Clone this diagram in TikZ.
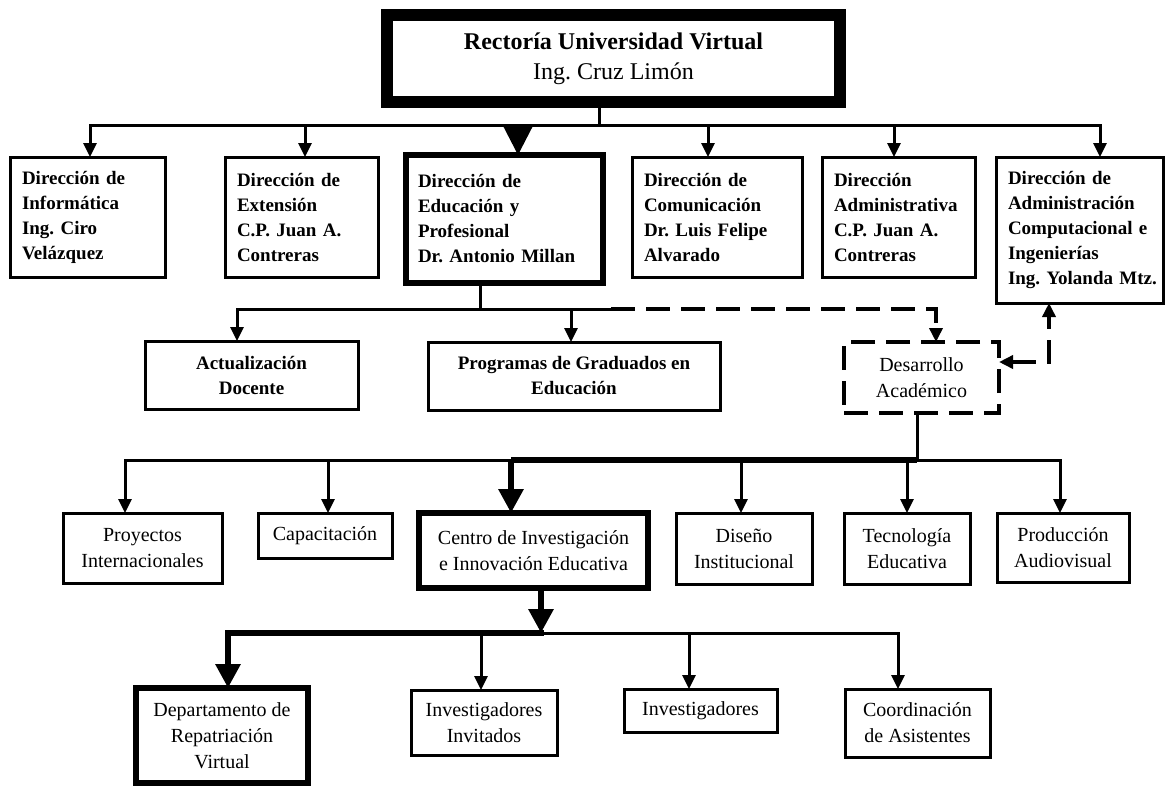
\documentclass[tikz,border=0pt]{standalone}
\usepackage{fontspec}
\setmainfont{Liberation Serif}
\usetikzlibrary{arrows.meta}
\frenchspacing
\begin{document}
\begin{tikzpicture}[x=1pt,y=-1pt,
  every node/.style={inner sep=0pt, outer sep=0pt},
  bx/.style={draw, line width=3pt, align=center, font=\fontsize{20}{26}\selectfont},
  lbx/.style={draw, line width=3pt, align=left, inner xsep=12pt, font=\fontsize{19}{25}\selectfont\bfseries},
  boldtxt/.style={font=\fontsize{19}{25}\selectfont\bfseries},
  heavybox/.style={line width=5.5pt},
  ln/.style={line width=3pt},
  tk/.style={line width=6pt},
  arr/.style={ln, -{Triangle[width=13pt,length=14pt]}},
  tarr/.style={tk, -{Triangle[width=24pt,length=24pt]}},
  dsh/.style={line width=4.5pt, dash pattern=on 24pt off 11pt},
]
\fill[white] (0,0) rectangle (1167,785);
\useasboundingbox (0,0) rectangle (1167,785);

% top
\node[draw, line width=12pt, minimum width=453pt, minimum height=87pt, align=center,
      font=\fontsize{24}{30}\selectfont] (top) at (613.5,58.5)
  {{\bfseries Rectoría Universidad Virtual}\\Ing. Cruz Limón};

% row 2
\node[lbx, minimum width=155pt, minimum height=120pt, text width=131pt] (b1) at (87.5,217)
  {Dirección de\\Informática\\Ing. Ciro\\Velázquez};
\node[lbx, minimum width=153pt, minimum height=120pt, text width=129pt] (b2) at (301.5,217)
  {Dirección de\\Extensión\\C.P. Juan A.\\Contreras};
\node[lbx, heavybox, minimum width=197pt, minimum height=128pt, text width=173pt] (b3) at (504.5,219)
  {Dirección de\\Educación y\\Profesional\\Dr. Antonio Millan};
\node[lbx, minimum width=170pt, minimum height=120pt, text width=146pt] (b4) at (717,217)
  {Dirección de\\Comunicación\\Dr. Luis Felipe\\Alvarado};
\node[lbx, minimum width=153pt, minimum height=120pt, text width=129pt] (b5) at (898.5,217)
  {Dirección\\Administrativa\\C.P. Juan A.\\Contreras};
\node[lbx, minimum width=167pt, minimum height=146pt, text width=143pt] (b6) at (1079.5,230)
  {Dirección de\\Administración\\Computacional e\\Ingenierías\\\makebox[0pt][l]{Ing. Yolanda Mtz.}};

% row 3
\node[bx, boldtxt, minimum width=213pt, minimum height=68pt] (act) at (251.5,375)
  {Actualización\\Docente};
\node[bx, boldtxt, minimum width=292pt, minimum height=68pt] (prog) at (574,376)
  {Programas de Graduados en\\Educación};
\node[bx, dsh, minimum width=155pt, minimum height=71pt] (des) at (921.5,377.5)
  {Desarrollo\\Académico};

% row 4
\node[bx, minimum width=159pt, minimum height=70pt] (proy) at (142.5,548)
  {Proyectos\\Internacionales};
\node[bx, minimum width=134pt, minimum height=45pt] (cap) at (325,535.5)
  {Capacitación};
\node[bx, heavybox, minimum width=229pt, minimum height=75pt] (cen) at (533.5,550.5)
  {Centro de Investigación\\e Innovación Educativa};
\node[bx, minimum width=136pt, minimum height=71pt] (dis) at (744,548.5)
  {Diseño\\Institucional};
\node[bx, minimum width=126pt, minimum height=71pt] (tec) at (907,548.5)
  {Tecnología\\Educativa};
\node[bx, minimum width=132pt, minimum height=69pt] (pro) at (1063,547.5)
  {Producción\\Audiovisual};

% row 5
\node[bx, heavybox, minimum width=172pt, minimum height=95pt] (dep) at (222,735.5)
  {Departamento de\\Repatriación\\Virtual};
\node[bx, minimum width=146pt, minimum height=65pt] (inv) at (484,722.5)
  {Investigadores\\Invitados};
\node[bx, minimum width=153pt, minimum height=43pt] (ivs) at (700.5,710.5)
  {Investigadores};
\node[bx, minimum width=145pt, minimum height=68pt] (coo) at (917.5,723)
  {Coordinación\\de Asistentes};

% connectors: top -> row 2
\coordinate (t0) at (599,125);
\coordinate (a1) at (90,125);
\coordinate (a2) at (305,125);
\coordinate (a3) at (518,125);
\coordinate (a4) at (708,125);
\coordinate (a5) at (894,125);
\coordinate (a6) at (1100,125);
\draw[ln] (top.south -| t0) -- (t0);
\draw[ln, line cap=rect] (a1) -- (a6);
\draw[arr] (a1) -- (b1.north -| a1);
\draw[arr] (a2) -- (b2.north -| a2);
\draw[ln, -{Triangle[width=28pt,length=28pt]}] (a3) -- (b3.north -| a3);
\draw[arr] (a4) -- (b4.north -| a4);
\draw[arr] (a5) -- (b5.north -| a5);
\draw[arr] (a6) -- (b6.north -| a6);

% row 3
\coordinate (c0) at (480,309);
\coordinate (c1) at (237,309);
\coordinate (c2) at (571,309);
\coordinate (c3) at (611,309);
\coordinate (c4) at (936,309);
\draw[ln] (b3.south -| c0) -- (c0);
\draw[ln, line cap=rect] (c1) -- (c3);
\draw[arr] (c1) -- (act.north -| c1);
\draw[arr] (c2) -- (prog.north -| c2);
\draw[dsh, -{Triangle[width=13pt,length=14pt]}] (c3) -| (des.north -| c4);
\coordinate (d1) at (1049,362);
\draw[dsh, {Triangle[width=13pt,length=14pt]}-{Triangle[width=13pt,length=14pt]}]
  (des.east |- d1) -| (b6.south -| d1);

% row 4
\coordinate (e0) at (917,460);
\coordinate (e1) at (125,460);
\coordinate (e2) at (328,460);
\coordinate (e3) at (511,460);
\coordinate (e4) at (741,460);
\coordinate (e5) at (907,460);
\coordinate (e6) at (1060,460);
\draw[ln] (des.south -| e0) -- (e0);
\draw[ln, line cap=rect] (e1) -- (e6);
\draw[tk] (e3) -- (e0);
\draw[arr] (e1) -- (proy.north -| e1);
\draw[arr] (e2) -- (cap.north -| e2);
\draw[tarr] (e3) -- (cen.north -| e3);
\draw[arr] (e4) -- (dis.north -| e4);
\draw[arr] (e5) -- (tec.north -| e5);
\draw[arr] (e6) -- (pro.north -| e6);

% row 5
\coordinate (f0) at (541,633);
\coordinate (f1) at (228,633);
\coordinate (f2) at (481,633);
\coordinate (f3) at (689,633);
\coordinate (f4) at (898,633);
\draw[tarr] (cen.south -| f0) -- (f0);
\draw[ln, line cap=rect] (f0) -- (f4);
\draw[tk, line cap=rect] (f1) -- (f0);
\draw[tarr] (f1) -- (dep.north -| f1);
\draw[arr] (f2) -- (inv.north -| f2);
\draw[arr] (f3) -- (ivs.north -| f3);
\draw[arr] (f4) -- (coo.north -| f4);
\end{tikzpicture}
\end{document}
